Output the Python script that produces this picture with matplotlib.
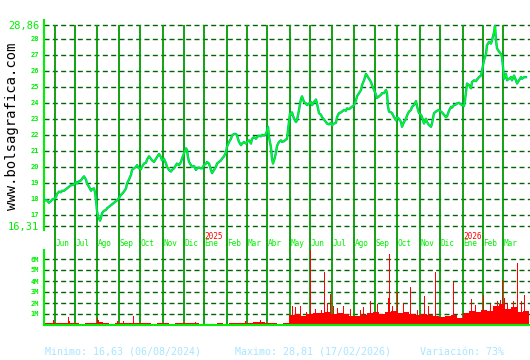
import numpy as np
import matplotlib as mpl
mpl.use("Agg")
from matplotlib import pyplot as plt

# sesiones bursatiles (0 = primera sesion del grafico) y cierre
sesion = [0, 2, 4, 6, 7, 9, 11, 12, 14, 16, 17, 19, 21, 22, 24, 26, 27, 29, 31, 32,
          34, 36, 37, 39, 41, 42, 44, 46, 47, 49, 50, 51, 52, 53, 55, 56, 57, 59, 61, 62,
          64, 66, 67, 69, 71, 72, 74, 76, 77, 79, 81, 82, 84, 86, 87, 89, 91, 92, 94, 96,
          97, 99, 101, 102, 104, 106, 107, 109, 111, 112, 114, 116, 117, 119, 121, 122, 124, 126, 127, 129,
          131, 132, 134, 136, 137, 139, 141, 142, 143, 144, 146, 147, 149, 151, 152, 154, 156, 157, 159, 161,
          162, 164, 166, 167, 169, 171, 172, 174, 176, 177, 179, 181, 182, 184, 186, 187, 189, 191, 192, 194,
          196, 197, 199, 201, 202, 204, 206, 207, 209, 211, 212, 214, 216, 217, 219, 221, 222, 223, 224, 226,
          227, 228, 230, 231, 232, 234, 236, 237, 239, 241, 242, 243, 244, 245, 246, 247, 249, 251, 252, 254,
          256, 257, 259, 261, 262, 264, 266, 267, 269, 271, 272, 274, 276, 277, 279, 281, 282, 284, 286, 287,
          289, 291, 292, 294, 296, 297, 299, 301, 302, 304, 306, 307, 309, 311, 312, 314, 316, 317, 319, 321,
          323, 326, 327, 329, 331, 332, 334, 336, 337, 339, 341, 342, 343, 344, 346, 347, 349, 351, 352, 354,
          356, 357, 359, 361, 362, 364, 366, 367, 369, 371, 372, 373, 374, 376, 377, 379, 381, 382, 384, 386,
          387, 389, 391, 392, 394, 396, 397, 399, 401, 402, 404, 406, 407, 409, 411, 412, 414, 416, 417, 419,
          420, 421, 422, 424, 426, 427, 429, 431, 432, 434, 436, 437, 439, 441, 442, 444, 446, 447, 449, 450,
          451, 452, 454, 456, 457, 458, 459, 461, 462, 464, 466, 467, 469, 471, 472, 474, 476, 477, 479, 481]
precio = [17.9, 17.9, 17.75, 17.85, 17.95, 18.0, 18.1, 18.3, 18.45, 18.4, 18.5, 18.5, 18.6, 18.65, 18.75, 18.85, 18.85, 18.9, 19.05, 18.95,
          19.1, 19.15, 19.25, 19.4, 19.2, 18.95, 18.75, 18.5, 18.6, 18.65, 18.4, 17.95, 17.25, 16.9, 16.63, 16.8, 17.1, 17.25, 17.3, 17.4,
          17.5, 17.6, 17.65, 17.75, 17.85, 17.9, 18.05, 18.25, 18.3, 18.45, 18.65, 18.95, 19.2, 19.5, 19.8, 19.9, 20.0, 20.1, 19.9, 19.85,
          20.0, 20.2, 20.25, 20.45, 20.65, 20.5, 20.4, 20.3, 20.5, 20.6, 20.8, 20.6, 20.4, 20.5, 20.2, 20.0, 19.8, 19.7, 19.8, 19.9,
          20.1, 20.2, 20.1, 20.3, 20.5, 20.85, 21.15, 21.05, 20.6, 20.3, 20.1, 20.0, 20.05, 19.8, 19.9, 19.95, 19.9, 19.9, 20.1, 20.2,
          20.3, 20.2, 19.8, 19.6, 19.8, 20.0, 20.2, 20.3, 20.4, 20.5, 20.65, 20.9, 21.25, 21.55, 21.75, 21.95, 22.05, 22.05, 21.95, 21.55,
          21.35, 21.45, 21.55, 21.45, 21.55, 21.65, 21.45, 21.75, 21.85, 21.75, 21.85, 21.95, 21.9, 22.0, 21.95, 22.05, 22.25, 22.5, 21.85, 21.2,
          20.5, 20.2, 20.6, 20.9, 21.3, 21.55, 21.65, 21.55, 21.6, 21.7, 21.75, 22.3, 22.9, 23.35, 23.25, 23.4, 23.0, 22.8, 22.9, 23.55,
          24.25, 24.4, 24.05, 23.95, 23.85, 23.95, 24.05, 23.85, 24.05, 24.2, 23.95, 23.35, 23.25, 23.1, 22.95, 22.8, 22.7, 22.65, 22.75, 22.6,
          22.7, 22.75, 23.1, 23.35, 23.4, 23.45, 23.55, 23.5, 23.65, 23.6, 23.7, 23.75, 23.85, 24.15, 24.4, 24.6, 24.8, 25.1, 25.4, 25.8,
          25.6, 25.3, 25.1, 24.8, 24.5, 24.3, 24.4, 24.5, 24.6, 24.6, 24.8, 24.6, 23.75, 23.45, 23.4, 23.35, 23.1, 22.9, 23.1, 23.0,
          22.8, 22.5, 22.8, 23.0, 23.2, 23.45, 23.55, 23.75, 23.85, 24.1, 23.8, 23.55, 23.35, 23.25, 23.1, 22.7, 23.0, 22.8, 22.6, 22.5,
          22.7, 23.35, 23.45, 23.5, 23.55, 23.45, 23.4, 23.25, 23.1, 23.15, 23.5, 23.75, 23.7, 23.85, 23.9, 23.95, 24.0, 23.9, 23.85, 23.8,
          24.15, 24.65, 25.2, 25.1, 24.9, 25.3, 25.4, 25.35, 25.45, 25.6, 25.7, 26.0, 26.65, 27.05, 27.6, 27.8, 27.7, 27.9, 28.4, 28.81,
          27.9, 27.4, 27.2, 27.05, 26.85, 26.25, 25.5, 25.8, 25.4, 25.5, 25.6, 25.4, 25.7, 25.4, 25.2, 25.4, 25.6, 25.5, 25.6, 25.6]

# volumen de fondo, un valor cada 6 sesiones (millones)
vol_fondo = [0.15, 0.18, 0.2, 0.22, 0.2, 0.15, 0.12, 0.15, 0.18, 0.25, 0.15, 0.12, 0.18, 0.2, 0.22, 0.2, 0.15, 0.18, 0.12, 0.15,
             0.18, 0.12, 0.15, 0.2, 0.15, 0.2, 0.12, 0.1, 0.12, 0.15, 0.12, 0.2, 0.18, 0.15, 0.2, 0.25, 0.28, 0.22, 0.18, 0.12,
             0.15, 0.9, 1.0, 0.85, 1.0, 1.1, 1.05, 1.2, 1.0, 1.1, 1.0, 0.8, 0.85, 0.9, 1.1, 1.2, 1.0, 1.2, 1.3, 1.1,
             1.2, 1.0, 0.9, 1.0, 0.9, 0.8, 0.75, 0.8, 0.9, 0.6, 1.1, 1.3, 1.2, 1.4, 1.3, 1.7, 1.9, 1.5, 1.6, 1.2, 1.3]
# picos de volumen
pico_sesion = [8, 23, 24, 52, 53, 72, 78, 88, 150, 200, 215,
               247, 250, 255, 261, 265, 270, 276, 279, 282, 285, 288, 292, 298, 305, 315, 318, 325, 332,
               343, 344, 347, 352, 358, 365, 372, 379, 383, 390, 408, 426, 430, 438, 445, 452, 455, 457,
               459, 462, 468, 472, 476, 479]
pico_vol = [0.5, 0.7, 0.4, 0.6, 0.45, 0.35, 0.4, 0.8, 0.3, 0.35, 0.5,
            1.7, 1.6, 1.7, 1.2, 6.9, 1.5, 1.4, 4.8, 2.0, 2.85, 1.7, 1.55, 1.7, 1.5, 1.4, 1.6, 2.15, 1.9,
            2.5, 6.5, 1.7, 3.0, 2.0, 3.45, 1.4, 2.6, 1.7, 4.8, 3.9, 2.4, 1.8, 2.7, 1.9, 2.15, 2.3, 4.1,
            2.5, 2.0, 2.2, 5.6, 2.2, 2.75]

meses = ['Jun', 'Jul', 'Ago', 'Sep', 'Oct', 'Nov', 'Dic', 'Ene', 'Feb', 'Mar', 'Abr',
         'May', 'Jun', 'Jul', 'Ago', 'Sep', 'Oct', 'Nov', 'Dic', 'Ene', 'Feb', 'Mar']
inicio_mes = [10, 30, 52, 74, 95, 118, 139, 159, 182, 202, 222,
              245, 265, 287, 309, 330, 352, 375, 395, 418, 438, 458]
anios = ['2025', '2026']
inicio_anio = [159, 418]

y_min, y_max = 16.31, 28.86
y_ticks = [16.31, 17, 18, 19, 20, 21, 22, 23, 24, 25, 26, 27, 28, 28.86]
y_labels = ['16,31', '17', '18', '19', '20', '21', '22', '23', '24', '25', '26', '27', '28', '28,86']
v_ticks = [1, 2, 3, 4, 5, 6]
v_labels = ['1M', '2M', '3M', '4M', '5M', '6M']

VERDE = '#00f000'
VERDE_OSC = '#006400'
VERDE_MES = '#009a00'
MONO = 'DejaVu Sans Mono'
DASH = (0, (3.6, 2.4))

fig = plt.figure(figsize=(5.3, 3.6), dpi=100)
fig.patch.set_facecolor('white')

# panel de precios
ax = fig.add_axes([44/530, 110/360, 486/530, 230/360])
ax.set_xlim(-1, 485)
ax.set_ylim(y_max - 225/16, y_max + 5/16)
for y in y_ticks:
    ax.axhline(y, color=VERDE_OSC, lw=1.0, ls=DASH, zorder=1)
for s in inicio_mes:
    ax.plot([s, s], [ax.get_ylim()[0], y_max], color=VERDE_MES, lw=1.3, zorder=2,
            solid_capstyle='butt')
ax.plot(sesion, precio, color='#00a8b8', lw=1.7, zorder=3)
ax.plot(sesion, precio, color='#00ff00', lw=1.0, zorder=4)
ax.set_yticks(y_ticks)
ax.set_yticklabels(y_labels)
ax.set_xticks([])
ax.tick_params(axis='y', length=0, pad=3.5, colors=VERDE)
for lab in ax.get_yticklabels():
    lab.set_family(MONO)
    if ',' in lab.get_text():
        lab.set_fontsize(7.5)
    else:
        lab.set_fontsize(5)
        lab.set_fontweight('bold')
for k in ['top', 'right', 'bottom']:
    ax.spines[k].set_visible(False)
ax.spines['left'].set_color(VERDE)
ax.spines['left'].set_linewidth(1.5)
ax.spines['left'].set_bounds(16.05, y_max + 5/16)

yb = ax.get_ylim()[0]
for m, s in zip(meses, inicio_mes):
    ax.text(s + 0.5, yb + 0.38, m, color=VERDE, fontsize=5.6, family=MONO,
            ha='left', va='center', zorder=5)
for a, s in zip(anios, inicio_anio):
    ax.text(s + 0.5, yb + 0.87, a, color='red', fontsize=5.6, family=MONO,
            ha='left', va='center', zorder=5)

# panel de volumen
av = fig.add_axes([44/530, 35/360, 486/530, 75/360])
av.set_xlim(-1, 485)
av.set_ylim(0, 75/11)
for v in v_ticks:
    av.axhline(v, color=VERDE_OSC, lw=1.0, ls=DASH, zorder=1)
for s in inicio_mes:
    av.axvline(s, color=VERDE_MES, lw=1.3, zorder=2)
vol_x = np.arange(-2, -2 + 6*len(vol_fondo), 6)
av.bar(vol_x, vol_fondo, width=6, align='edge', color='red', lw=0, zorder=3)
av.bar(pico_sesion, pico_vol, width=1.2, align='edge', color='#ff0000', lw=0, zorder=3)
av.set_yticks(v_ticks)
av.set_yticklabels(v_labels)
av.set_xticks([])
av.tick_params(axis='y', length=0, pad=3.5, colors=VERDE)
for lab in av.get_yticklabels():
    lab.set_family(MONO)
    lab.set_fontsize(5)
    lab.set_fontweight('bold')
for k in ['top', 'right']:
    av.spines[k].set_visible(False)
for k in ['left', 'bottom']:
    av.spines[k].set_color(VERDE)
    av.spines[k].set_linewidth(1.5)
    av.spines[k].set_zorder(6)

# textos
fig.text(12/530, 0.65, 'www.bolsagrafica.com', rotation=90, family=MONO, fontsize=10,
         color='black', ha='center', va='center')
celeste = '#a8e6ff'
fig.text(45/530, 8/360, 'Minimo: 16,63 (06/08/2024)', family=MONO, fontsize=7.2,
         color=celeste, ha='left', va='center')
fig.text(235/530, 8/360, 'Maximo: 28,81 (17/02/2026)', family=MONO, fontsize=7.2,
         color=celeste, ha='left', va='center')
fig.text(420/530, 8/360, 'Variación: 73%', family=MONO, fontsize=7.2,
         color=celeste, ha='left', va='center')

fig.savefig('out.png', dpi=100)
